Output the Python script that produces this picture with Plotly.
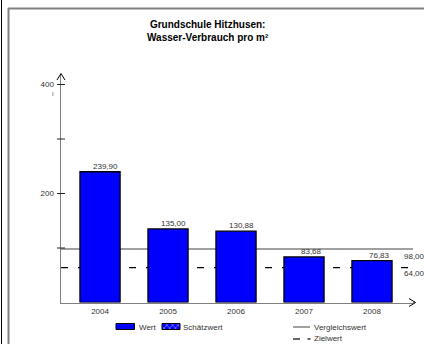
import plotly.graph_objects as go

years = ["2004", "2005", "2006", "2007", "2008"]
values = [239.90, 135.00, 130.88, 83.68, 76.83]
value_labels = ["239,90", "135,00", "130,88", "83,68", "76,83"]
vergleichswert = 98.00
vergleich_label = "98,00"
zielwert = 64.00
ziel_label = "64,00"
y_tick_vals = [100, 200, 300, 400]
y_tick_text = ["", "200", "", "400"]
title_lines = ["Grundschule Hitzhusen:", "Wasser-Verbrauch pro m²"]
legend_names = ["Wert", "Schätzwert", "Vergleichswert", "Zielwert"]

W, H = 424, 344
FONT = "Liberation Sans, Arial, sans-serif"
GREY = "#808080"
TXT = "#333333"


def X(px):
    return px / W


def Y(py):
    return 1 - py / H


x_left, x_right = 61, 413
y_bottom, y_top = 302.5, 73.6
y_max = 420

fig = go.Figure()
fig.add_trace(go.Bar(
    x=years, y=values,
    marker=dict(color="#0000FF", line=dict(color="black", width=1.3)),
    showlegend=False, hoverinfo="skip",
))

# legend swatch with hatch (overlay pixel axes)
fig.add_trace(go.Scatter(
    x=[162, 180, 180, 162, 162], y=[323.5, 323.5, 329.5, 329.5, 323.5],
    xaxis="x2", yaxis="y2", mode="lines", fill="toself",
    line=dict(color="black", width=1),
    fillcolor="#0000FF",
    fillpattern=dict(shape="x", bgcolor="#0000FF", fgcolor="white", size=4, solidity=0.35),
    showlegend=False, hoverinfo="skip",
))

shapes = []
annotations = []

# outer frame
shapes.append(dict(type="line", xref="paper", yref="paper", x0=X(1.5), x1=X(1.5), y0=Y(0), y1=Y(344),
                   line=dict(color="black", width=1)))
shapes.append(dict(type="line", xref="paper", yref="paper", x0=X(8.5), x1=X(8.5), y0=Y(8), y1=Y(344),
                   line=dict(color=GREY, width=2)))
shapes.append(dict(type="line", xref="paper", yref="paper", x0=X(8), x1=X(424), y0=Y(8.5), y1=Y(8.5),
                   line=dict(color=GREY, width=2)))

# reference lines (behind bars)
shapes.append(dict(type="line", xref="paper", yref="y", x0=X(x_left), x1=X(x_right),
                   y0=vergleichswert, y1=vergleichswert, layer="below",
                   line=dict(color=GREY, width=1.5)))
shapes.append(dict(type="line", xref="paper", yref="y", x0=X(x_left), x1=X(x_right),
                   y0=zielwert, y1=zielwert, layer="below",
                   line=dict(color="black", width=1.2, dash="7px,10px")))

# y tick marks crossing the axis
for v in y_tick_vals:
    shapes.append(dict(type="line", xref="paper", yref="y", x0=X(x_left - 4), x1=X(x_left + 4),
                       y0=v, y1=v, line=dict(color="#222222", width=1)))

# x-axis extension and arrowheads
shapes.append(dict(type="line", xref="paper", yref="paper", x0=X(x_right), x1=X(415),
                   y0=Y(y_bottom), y1=Y(y_bottom), line=dict(color=GREY, width=1.5)))
shapes.append(dict(type="path", xref="paper", yref="paper",
                   path=f"M {X(409)} {Y(298.5)} L {X(415.5)} {Y(y_bottom)} L {X(409)} {Y(306.5)}",
                   line=dict(color="black", width=1)))
shapes.append(dict(type="path", xref="paper", yref="paper",
                   path=f"M {X(57)} {Y(80)} L {X(x_left)} {Y(73.5)} L {X(65)} {Y(80)}",
                   line=dict(color="black", width=1)))

# title
annotations.append(dict(xref="paper", yref="paper", x=X(207.5), y=Y(31), xanchor="center", yanchor="middle",
                        text="<b>" + title_lines[0] + "</b><br><b>" + title_lines[1] + "</b>",
                        showarrow=False, font=dict(family=FONT, size=10, color="black")))

# stray mark under 400
annotations.append(dict(xref="paper", yref="paper", x=X(52.5), y=Y(94.5), xanchor="center", yanchor="middle",
                        text="I", showarrow=False, font=dict(family=FONT, size=6, color="#555555")))

# value labels (category axis: annotations use the category index)
for i, (v, lab) in enumerate(zip(values, value_labels)):
    annotations.append(dict(x=i, y=v, xref="x", yref="y", xanchor="right", yanchor="bottom",
                            xshift=20, yshift=-1, text=lab, showarrow=False,
                            font=dict(family=FONT, size=8, color=TXT)))

# reference labels
annotations.append(dict(xref="paper", yref="y", x=X(402), y=vergleichswert, xanchor="left", yanchor="middle",
                        yshift=-7, text=vergleich_label, showarrow=False,
                        font=dict(family=FONT, size=8, color=TXT)))
annotations.append(dict(xref="paper", yref="y", x=X(402), y=zielwert, xanchor="left", yanchor="middle",
                        yshift=-6, text=ziel_label, showarrow=False,
                        font=dict(family=FONT, size=8, color=TXT)))

# legend
shapes.append(dict(type="rect", xref="paper", yref="paper", x0=X(116), x1=X(134.5), y0=Y(323.5), y1=Y(329.5),
                   fillcolor="#0000FF", line=dict(color="black", width=1)))
annotations.append(dict(xref="paper", yref="paper", x=X(136.5), y=Y(327), xanchor="left", yanchor="middle",
                        text=legend_names[0], showarrow=False, font=dict(family=FONT, size=8, color=TXT)))
annotations.append(dict(xref="paper", yref="paper", x=X(181), y=Y(327), xanchor="left", yanchor="middle",
                        text=legend_names[1], showarrow=False, font=dict(family=FONT, size=8, color=TXT)))
shapes.append(dict(type="line", xref="paper", yref="paper", x0=X(293), x1=X(310), y0=Y(327), y1=Y(327),
                   line=dict(color=GREY, width=1.5)))
annotations.append(dict(xref="paper", yref="paper", x=X(312), y=Y(327), xanchor="left", yanchor="middle",
                        text=legend_names[2], showarrow=False, font=dict(family=FONT, size=8, color=TXT)))
shapes.append(dict(type="line", xref="paper", yref="paper", x0=X(293), x1=X(300), y0=Y(339), y1=Y(339),
                   line=dict(color="black", width=1.2)))
shapes.append(dict(type="line", xref="paper", yref="paper", x0=X(307.5), x1=X(310.5), y0=Y(339), y1=Y(339),
                   line=dict(color="black", width=1.2)))
annotations.append(dict(xref="paper", yref="paper", x=X(312), y=Y(338.5), xanchor="left", yanchor="middle",
                        text=legend_names[3], showarrow=False, font=dict(family=FONT, size=8, color=TXT)))

fig.update_layout(
    width=W, height=H,
    margin=dict(l=0, r=0, t=0, b=0),
    paper_bgcolor="white", plot_bgcolor="rgba(0,0,0,0)",
    bargap=0.41,
    showlegend=False,
    font=dict(family=FONT, size=8, color=TXT),
    xaxis=dict(
        domain=[X(x_left), X(x_right)],
        type="category", range=[-0.574, 4.603],
        showline=True, linecolor=GREY, linewidth=1.5,
        showgrid=False, zeroline=False, ticks="",
        tickfont=dict(family=FONT, size=8, color=TXT),
        fixedrange=True, anchor="y",
    ),
    yaxis=dict(
        domain=[Y(y_bottom), Y(y_top)],
        range=[0, y_max],
        tickvals=y_tick_vals, ticktext=y_tick_text,
        showline=True, linecolor=GREY, linewidth=1.5,
        showgrid=False, zeroline=False,
        ticks="outside", ticklen=4, tickcolor="rgba(0,0,0,0)",
        tickfont=dict(family=FONT, size=8, color=TXT),
        fixedrange=True, anchor="x",
    ),
    xaxis2=dict(domain=[0, 1], range=[0, W], visible=False, anchor="y2", fixedrange=True),
    yaxis2=dict(domain=[0, 1], range=[H, 0], visible=False, anchor="x2", fixedrange=True),
    shapes=shapes,
    annotations=annotations,
)

fig.write_html(
    "out.html",
    config={"displayModeBar": False, "staticPlot": True},
    post_script="document.body.style.margin='0';document.body.style.overflow='hidden';",
)
